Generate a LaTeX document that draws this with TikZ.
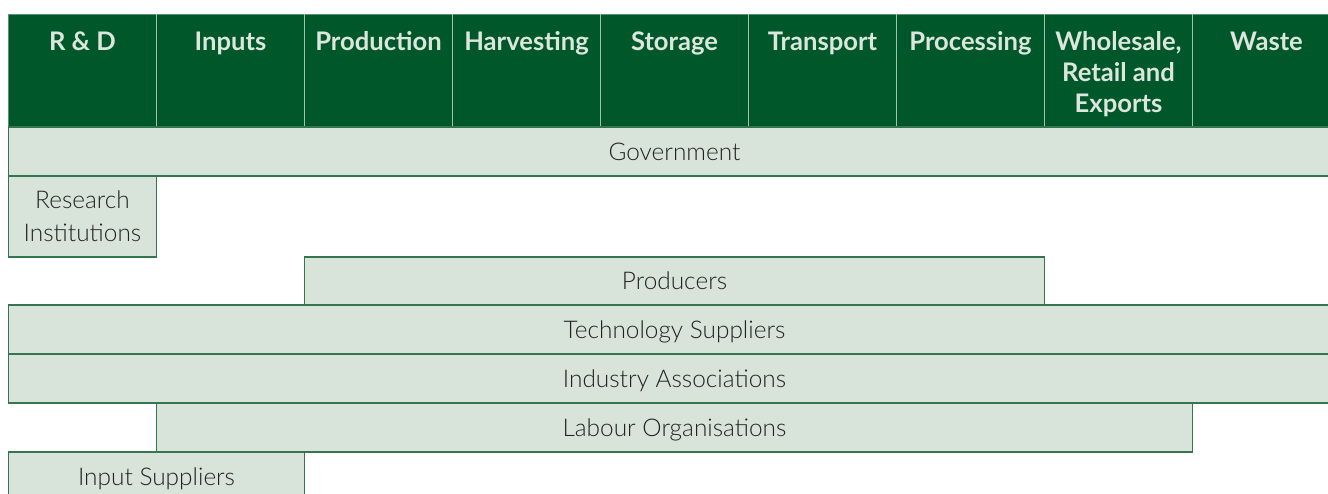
\documentclass[tikz,border=0pt]{standalone}
\usepackage{fontspec}
\setmainfont{Lato}
\newfontfamily\duenn{Lato Light}
\usepackage{tikz}
\usetikzlibrary{positioning}
\definecolor{kopfgruen}{HTML}{00582A}
\definecolor{zellgruen}{HTML}{D8E3DA}
\definecolor{randgruen}{HTML}{357650}
\definecolor{kopftext}{HTML}{DCE6DD}
\definecolor{trenner}{HTML}{A6BEAC}
\definecolor{schrift}{HTML}{222222}
\tikzset{
  kopfschrift/.style={anchor=base, inner sep=0pt, text=kopftext,
    font=\fontsize{12.8}{15.5}\selectfont\bfseries},
  zelle/.style={draw=randgruen, fill=zellgruen, line width=0.6pt, inner sep=0pt,
    outer sep=0pt, anchor=north west, text=schrift, align=center,
    font=\duenn\fontsize{12.2}{16.5}\selectfont},
  einzeilig/.style={text height=8.7pt, text depth=0pt}
}
\begin{document}
\begin{tikzpicture}[x=0.5pt,y=-0.5pt]
%Alle Koordinaten in Pixeln des Bildes (y nach unten), Spaltenbreite 148
  \pgfmathsetmacro{\sp}{148}
  \pgfmathsetmacro{\links}{8.5}
  \pgfmathsetmacro{\zh}{49}
\useasboundingbox (0,0) rectangle (1328,493);
\clip (0,0) rectangle (1328,493);
%Kopfzeile
\draw[fill=kopfgruen,draw=randgruen!80] (\links,14) rectangle (1340,127);
\foreach \k in {1,...,8}{
\draw[trenner,line width=0.6pt] (\links+\k*\sp,14) -- (\links+\k*\sp,127);
}
\foreach \name/\txt [count=\i from 0] in {rd/R \& D, inputs/Inputs, prod/Production, harv/Harvesting, stor/Storage, trans/Transport, proc/Processing, whole/{\begin{tabular}[t]{@{}c@{}}Wholesale,\\Retail and\\Exports\end{tabular}}, waste/Waste}{
\node[kopfschrift] (\name) at (\links+\i*\sp+\sp/2,50) {\txt};
}
%Akteure
\node[zelle,einzeilig,minimum width=9*\sp*0.5pt,minimum height=\zh*0.5pt] (gov) at (\links,127) {Government};
\node[zelle,minimum width=\sp*0.5pt,minimum height=81*0.5pt] (research) at (\links,176) {Research\\Institutions};
\node[zelle,einzeilig,minimum width=5*\sp*0.5pt,minimum height=48*0.5pt] (producers) at (\links+2*\sp,257) {Producers};
\node[zelle,einzeilig,minimum width=9*\sp*0.5pt,minimum height=\zh*0.5pt] (tech) at (\links,305) {Technology Suppliers};
\node[zelle,einzeilig,minimum width=9*\sp*0.5pt,minimum height=\zh*0.5pt] (industry) at (\links,354) {Industry Associations};
\node[zelle,einzeilig,minimum width=7*\sp*0.5pt,minimum height=\zh*0.5pt] (labour) at (\links+\sp,403) {Labour Organisations};
\node[zelle,einzeilig,minimum width=2*\sp*0.5pt,minimum height=\zh*0.5pt] (inputsup) at (\links,452) {Input Suppliers};
\end{tikzpicture}
\end{document}
